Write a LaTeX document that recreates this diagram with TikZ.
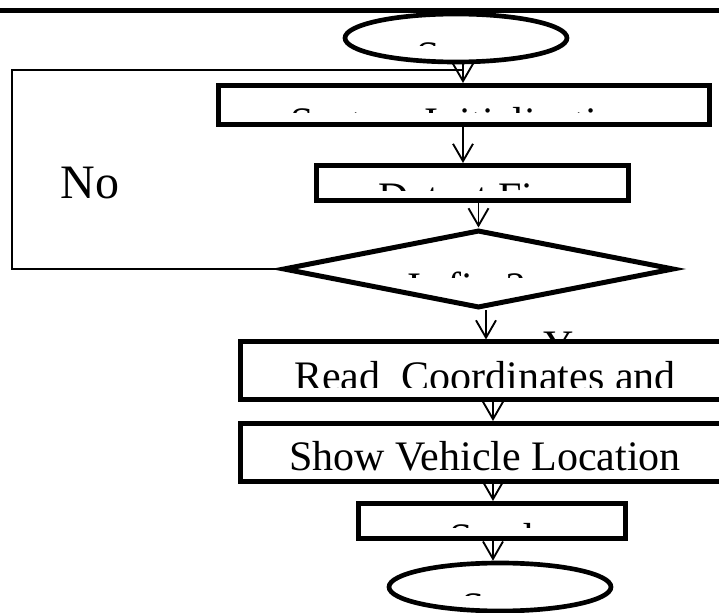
\documentclass[tikz,border=0pt]{standalone}
\usepackage{fontspec}
\setmainfont{Liberation Serif}
\usetikzlibrary{shapes.geometric,arrows.meta}

\tikzset{
  boxed/.style={draw, line width=3.75pt, rectangle, inner sep=0pt},
  oval/.style={draw, line width=3.5pt, ellipse, inner sep=0pt, minimum width=222*0.75pt, minimum height=48*0.75pt},
  flow/.style={line width=1.4pt, -{Straight Barb[length=13pt,width=15pt]}},
  txt/.style={font=\fontsize{31.5}{38}\selectfont, inner sep=0pt, anchor=base, text height=0.7em, text depth=0pt},
}

% text cut off below a given height: name, x, baseline, cut, text
\newcommand{\cuttext}[5]{%
  \begin{scope}
    \clip (0,#3-40) rectangle (719,#4);
    \node[txt] (#1) at (#2,#3) {#5};
  \end{scope}}

\begin{document}
\begin{tikzpicture}[x=0.75pt,y=0.75pt,yscale=-1,xscale=1]
\clip (0,0) rectangle (719,613);

%Straight Lines: rule at the top
\draw[line width=3.25pt] (0,10.5) -- (719,10.5);

%Shapes
\node[oval] (start) at (456,38) {};
\node[boxed, minimum width=491*0.75pt, minimum height=39*0.75pt] (init) at (463.5,105) {};
\node[boxed, minimum width=312*0.75pt, minimum height=35*0.75pt] (detect) at (472,183) {};
\node[draw, line width=3.75pt, diamond, inner sep=0pt, minimum width=391*0.75pt, minimum height=78*0.75pt] (check) at (478.5,269) {};

% Text Node: Yes, half hidden by the box below
\node[txt, anchor=base west] (yes) at (543,360) {Yes};

\node[boxed, fill=white, minimum width=490*0.75pt, minimum height=58*0.75pt] (readxy) at (485,371) {};
\node[boxed, minimum width=490*0.75pt, minimum height=58*0.75pt] (show) at (485,452.5) {};
\node[boxed, minimum width=267*0.75pt, minimum height=35*0.75pt] (send) at (491.5,521) {};
\node[oval] (stop) at (500,587) {};

%lanes of the down arrows
\coordinate (laneA) at (463,0);
\coordinate (laneB) at (478.5,0);
\coordinate (laneC) at (486,0);
\coordinate (laneD) at (493,0);

%Straight Lines
\draw[flow] (start.south -| laneA) -- (init.north -| laneA);
\draw[flow] (init.south -| laneA) -- (detect.north -| laneA);
\draw[flow] (detect.south -| laneB) -- (check.north);
\draw[flow] (check.south -| laneC) -- (readxy.north -| laneC);
\draw[flow] (readxy.south -| laneD) -- (show.north -| laneD);
\draw[flow] (show.south -| laneD) -- (send.north -| laneD);
\draw[flow] (send.south -| laneD) -- (stop.north -| laneD);

%the No branch back to the top
\coordinate (back) at (463,70);
\draw[line width=1.4pt] (check.west) -- (12,269) -- (12,70) -- (back);

% Text Node
\node[font=\fontsize{36}{42}\selectfont, inner sep=0pt, anchor=base] (no) at (90,199) {No};

% Text Nodes, cut off at the bottom
\cuttext{start-t}{456}{71}{45.5}{Start}
\cuttext{init-t}{464.5}{137}{112.5}{System Initialization}
\cuttext{detect-t}{472}{212}{191}{Detect Fire}
\cuttext{check-t}{466}{302}{278}{Is fire?}
\cuttext{readxy-t}{485}{390.5}{388}{Read\ \ Coordinates and}
\cuttext{show-t}{485}{470.5}{470.5}{Show Vehicle Location}
\cuttext{send-t}{491}{553}{528}{Send}
\cuttext{stop-t}{500}{621}{595.5}{Stop}

\end{tikzpicture}
\end{document}
